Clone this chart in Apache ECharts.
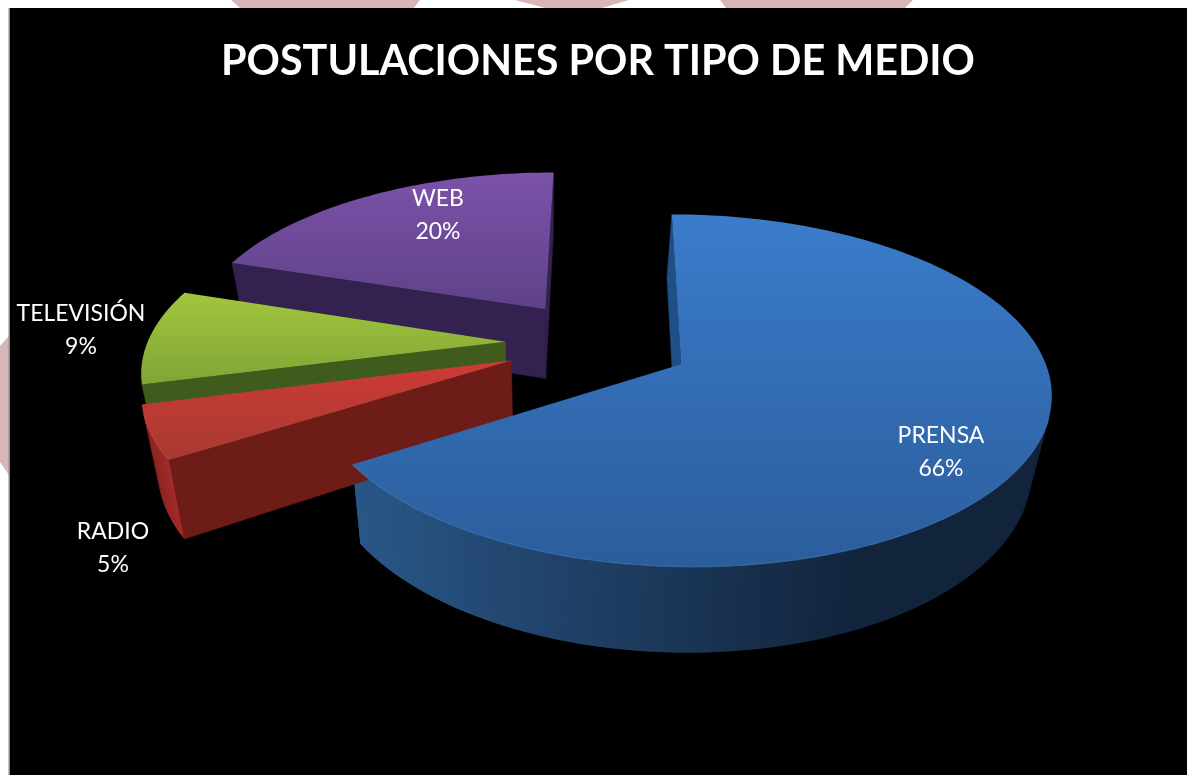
<!DOCTYPE html>
<html>
<head>
<meta charset="utf-8">
<style>html,body{margin:0;padding:0;background:#fff}#c{width:1187px;height:775px}</style>
<script src="https://cdn.jsdelivr.net/npm/echarts@6/dist/echarts.min.js"></script>
</head>
<body>
<div id="c"></div>
<script>
const categories = ['PRENSA', 'RADIO', 'TELEVISIÓN', 'WEB'];
const values = [66, 5, 9, 20];
const titleText = 'POSTULACIONES POR TIPO DE MEDIO';

// styling per slice
const topColors = [['#3b7ccb', '#2b5d9c'], ['#cf3a36', '#a63a32'], ['#a2c63c', '#80a536'], ['#7c52aa', '#5e4288']];
const cutColors = ['#1f4f86', '#6e1c18', '#3f5c1c', '#33214f'];
const rimLeft = ['#2a5788', '#a02b27', '#4a6a20', '#3c2a5c'];
const rimRight = ['#12243c', '#7c1f1b', '#3f5c1c', '#33214f'];
const rimLight = ['#4f8fd8', '#d9534f', '#b5d55a', '#8d68b8'];
const labelPos = [[941, 452], [113, 548], [81, 330], [438, 215]];

// perspective model of the pie
const R = 365, CX = 598, CD = 0.13, EXPLODE = 0.26;
const K = 0.15, VX = 610, HY = -785, H = 1150, NADIR = 550, DEPTH = 73;
const total = values.reduce((a, b) => a + b, 0);
const TAU = Math.PI * 2;

function angles(i) {
  const before = values.slice(0, i).reduce((a, b) => a + b, 0);
  return [before / total * TAU, (before + values[i]) / total * TAU];
}
function pt(i, r, th) {
  const [a, b] = angles(i), m = (a + b) / 2;
  const X = CX + R * (EXPLODE * Math.sin(m) + r * Math.sin(th));
  const D = CD + EXPLODE * Math.cos(m) + r * Math.cos(th);
  const w = 1 + K * D;
  return [VX + (X - VX) / w, HY + H / w, w];
}
function down(p) {
  return [p[0] + (NADIR - p[0]) * 0.04, p[1] + DEPTH / p[2]];
}
function area(q) {
  let s = 0;
  for (let j = 0; j < q.length; j++) {
    const a = q[j], b = q[(j + 1) % q.length];
    s += a[0] * b[1] - b[0] * a[1];
  }
  return s / 2;
}
function mix(c1, c2, t) {
  const p = c => [1, 3, 5].map(n => parseInt(c.substr(n, 2), 16));
  const a = p(c1), b = p(c2);
  return 'rgb(' + a.map((v, n) => Math.round(v + (b[n] - v) * t)).join(',') + ')';
}

function renderItem(params, api) {
  const i = params.dataIndex;
  const [a, b] = angles(i);
  const n = Math.max(8, Math.round((b - a) / 0.025));
  const apex = pt(i, 0, 0);
  const rim = [];
  for (let j = 0; j <= n; j++) rim.push(pt(i, 1, a + (b - a) * j / n));
  const z = Math.round((1.5 - ((apex[2] - 0.9) * 8)) * 10) * 100;
  const kids = [];
  const face = (q, fill, sw) => {
    kids.push({
      type: 'polygon', z2: z,
      shape: { points: q.map(p => [p[0], p[1]]) },
      style: { fill: fill, stroke: fill, lineWidth: sw }
    });
  };
  // walls whose outward side looks at the viewer
  const walls = [[apex, rim[0], cutColors[i]], [rim[n], apex, cutColors[i]]];
  walls.forEach(e => {
    const q = [e[0], e[1], down(e[1]), down(e[0])];
    if (area(q) < 0) face(q, e[2], 0.5);
  });
  const front = [];
  for (let j = 0; j < n; j++) {
    const q = [rim[j], rim[j + 1], down(rim[j + 1]), down(rim[j])];
    if (area(q) < 0) {
      const t = i === 0 ? Math.min(1, Math.max(0, (rim[j][0] - 350) / 520)) : j / n;
      // each band overlaps the next one so that no seam shows
      const end = rim[Math.min(n, j + 2)];
      face([rim[j], end, down(end), down(rim[j])], mix(rimLeft[i], rimRight[i], t), 0);
      front.push(rim[j], rim[j + 1]);
    }
  }
  kids.push({
    type: 'polygon', z2: z + 5,
    shape: { points: [apex].concat(rim).map(p => [p[0], p[1]]) },
    style: {
      fill: new echarts.graphic.LinearGradient(0, 0, 0, 1, [
        { offset: 0, color: topColors[i][0] }, { offset: 1, color: topColors[i][1] }
      ])
    }
  });
  if (front.length) {
    kids.push({
      type: 'polyline', z2: z + 6,
      shape: { points: front.map(p => [p[0], p[1]]) },
      style: { fill: null, stroke: rimLight[i], lineWidth: 1.2, opacity: 0.45 }
    });
  }
  kids.push({
    type: 'text', z2: 9000,
    style: {
      text: categories[i] + '\n' + Math.round(api.value(0) / total * 100) + '%',
      x: labelPos[i][0], y: labelPos[i][1],
      align: 'center', verticalAlign: 'middle',
      fill: '#ffffff', font: '23px Lato', lineHeight: 33
    }
  });
  return { type: 'group', children: kids };
}

const chart = echarts.init(document.getElementById('c'), null, { renderer: 'canvas' });
chart.setOption({
  animation: false,
  backgroundColor: '#ffffff',
  title: {
    text: titleText, left: 593, top: 36, textAlign: 'center',
    textStyle: { color: '#ffffff', fontFamily: 'Lato', fontWeight: 'bold', fontSize: 41.3 }
  },
  graphic: [
    { type: 'polygon', z: -10, shape: { points: [[231, 0], [420, 0], [414, 8], [240, 8]] }, style: { fill: '#d8b6b8' } },
    { type: 'polygon', z: -10, shape: { points: [[515, 0], [629, 0], [602, 8], [545, 8]] }, style: { fill: '#d8b6b8' } },
    { type: 'polygon', z: -10, shape: { points: [[720, 0], [913, 0], [905, 8], [726, 8]] }, style: { fill: '#d8b6b8' } },
    { type: 'polygon', z: -10, shape: { points: [[0, 346], [9, 336], [9, 475], [0, 462]] }, style: { fill: '#d8b6b8' } },
    { type: 'rect', z: -9, shape: { x: 8.5, y: 8, width: 1.5, height: 767 }, style: { fill: '#8a8a8a' } },
    { type: 'rect', z: -9, shape: { x: 10, y: 8, width: 1177, height: 767 }, style: { fill: '#000000' } }
  ],
  series: [{
    type: 'custom',
    coordinateSystem: 'none',
    renderItem: renderItem,
    data: values.map((v, i) => ({ name: categories[i], value: [v] }))
  }]
});
</script>
</body>
</html>
